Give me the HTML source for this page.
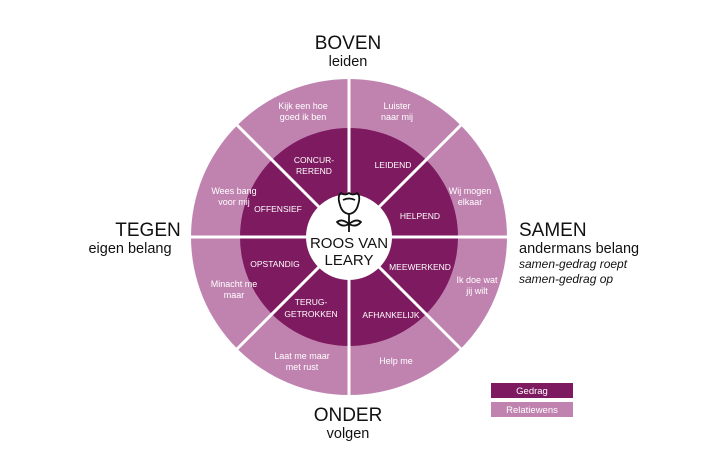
<!DOCTYPE html>
<html><head><meta charset="utf-8"><style>
html,body{margin:0;padding:0;background:#fff;width:715px;height:461px;overflow:hidden}
svg text{font-family:"Liberation Sans",sans-serif}
</style></head><body>
<svg width="715" height="461" viewBox="0 0 715 461">
<circle cx="349" cy="237" r="158" fill="#c083b0"/>
<circle cx="349" cy="237" r="109" fill="#7e1a60"/>
<g stroke="#fff" stroke-width="3">
<line x1="349" y1="75" x2="349" y2="399"/>
<line x1="187" y1="237" x2="511" y2="237"/>
<line x1="237" y1="125" x2="461" y2="349"/>
<line x1="461" y1="125" x2="237" y2="349"/>
</g>
<circle cx="349" cy="237" r="43" fill="#fff"/>
<!-- rose -->
<g fill="none" stroke="#111" stroke-width="1.8" stroke-linejoin="round">
<path d="M340 205 q-3 -9 1 -12 q4 3 8 0 q4 3 8 0 q4 3 1 12 q-2 8 -9 9 q-7 -1 -9 -9z"/>
<path d="M343 200 q6 -3 12 0"/>
<path d="M349 214 v18"/>
<path d="M349 224 q-7 -6 -12 -2 q5 6 12 2z M349 224 q7 -6 12 -2 q-5 6 -12 2z"/>
</g>
<g text-anchor="middle" fill="#111" font-size="15">
<text x="349" y="248">ROOS VAN</text>
<text x="349" y="265">LEARY</text>
</g>
<g text-anchor="middle" fill="#fff" font-size="8.5">
<text x="314" y="163">CONCUR-</text><text x="314" y="174">REREND</text>
<text x="393" y="168">LEIDEND</text>
<text x="420" y="219">HELPEND</text>
<text x="278" y="212">OFFENSIEF</text>
<text x="275" y="267">OPSTANDIG</text>
<text x="420" y="270">MEEWERKEND</text>
<text x="311" y="305">TERUG-</text><text x="311" y="317">GETROKKEN</text>
<text x="391" y="318">AFHANKELIJK</text>
</g>
<g text-anchor="middle" fill="#fff" font-size="9">
<text x="303" y="109">Kijk een hoe</text><text x="303" y="120">goed ik ben</text>
<text x="397" y="109">Luister</text><text x="397" y="120">naar mij</text>
<text x="470" y="194">Wij mogen</text><text x="470" y="205">elkaar</text>
<text x="234" y="194">Wees bang</text><text x="234" y="205">voor mij</text>
<text x="234" y="287">Minacht me</text><text x="234" y="298">maar</text>
<text x="477" y="283">Ik doe wat</text><text x="477" y="294">jij wilt</text>
<text x="302" y="359">Laat me maar</text><text x="302" y="370">met rust</text>
<text x="396" y="364">Help me</text>
</g>
<g text-anchor="middle" fill="#111">
<text x="348" y="49" font-size="19">BOVEN</text>
<text x="348" y="66" font-size="14.5">leiden</text>
<text x="348" y="421" font-size="19">ONDER</text>
<text x="348" y="438" font-size="14.5">volgen</text>
<text x="148" y="236" font-size="19">TEGEN</text>
<text x="130" y="253" font-size="14.5">eigen belang</text>
</g>
<g fill="#111">
<text x="519" y="236" font-size="19">SAMEN</text>
<text x="519" y="253" font-size="14.5">andermans belang</text>
<text x="519" y="268" font-size="12" font-style="italic">samen-gedrag roept</text>
<text x="519" y="283" font-size="12" font-style="italic">samen-gedrag op</text>
</g>
<rect x="491" y="383" width="82" height="15" fill="#7e1a60"/>
<rect x="491" y="402" width="82" height="15" fill="#c083b0"/>
<g text-anchor="middle" fill="#fff" font-size="9.5">
<text x="532" y="394">Gedrag</text>
<text x="532" y="413">Relatiewens</text>
</g>
</svg>
</body></html>
